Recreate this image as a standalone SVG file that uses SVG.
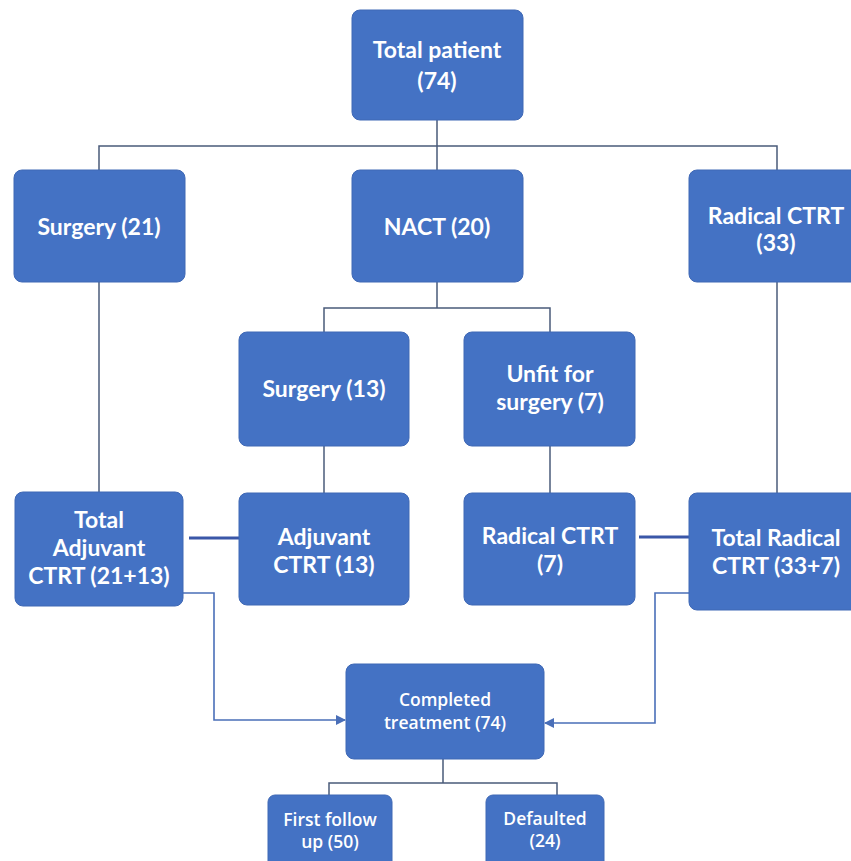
<svg xmlns="http://www.w3.org/2000/svg" width="851" height="861" viewBox="0 0 851 861">
<defs>
<style>
.box{fill:#4472C4;stroke:#3f68b5;stroke-width:1}
.t{font-family:Lato,"Open Sans","Liberation Sans",sans-serif;font-weight:700;font-size:23px;fill:#ffffff;text-anchor:middle}
.s{font-family:"Open Sans",Lato,"Liberation Sans",sans-serif;font-weight:600;font-size:17.5px;fill:#ffffff;text-anchor:middle}
.ln{fill:none;stroke:#4a5b7a;stroke-width:1.5}
.thick{fill:none;stroke:#3a57a8;stroke-width:3}
.ar{fill:none;stroke:#4a6fb8;stroke-width:1.6}
</style>
<marker id="ah" viewBox="0 0 10 10" refX="9" refY="5" markerWidth="10" markerHeight="10" markerUnits="userSpaceOnUse" orient="auto">
<path d="M0,0 L10,5 L0,10 z" fill="#4a6fb8"/>
</marker>
</defs>
<rect width="851" height="861" fill="#ffffff"/>
<g id="connectors">
<path class="ln" d="M437,120 V170 M99,170 V146 H777 V170"/>
<path class="ln" d="M437,282 V308 M324,332 V308 H550 V332"/>
<path class="ln" d="M99,282 V492"/>
<path class="ln" d="M777,282 V493"/>
<path class="ln" d="M324,446 V493"/>
<path class="ln" d="M550,446 V493"/>
<path class="thick" d="M189,538 H239"/>
<path class="thick" d="M639,537 H689"/>
<path class="ar" d="M183,593 H214 V720 H345" marker-end="url(#ah)"/>
<path class="ar" d="M689,593 H655 V723 H545" marker-end="url(#ah)"/>
<path class="ln" d="M443,759 V783 M329,795 V783 H557 V795"/>
</g>
<g id="total-patient">
<rect class="box" x="352" y="10" width="171" height="110" rx="8"/>
<text class="t" x="437" y="58">Total patient</text>
<text class="t" x="437" y="89">(74)</text>
</g>
<g id="surgery-21">
<rect class="box" x="14" y="170" width="171" height="112" rx="8"/>
<text class="t" x="99" y="235">Surgery (21)</text>
</g>
<g id="nact-20">
<rect class="box" x="352" y="170" width="171" height="112" rx="8"/>
<text class="t" x="437" y="235">NACT (20)</text>
</g>
<g id="radical-ctrt-33">
<rect class="box" x="689" y="170" width="175" height="112" rx="8"/>
<text class="t" x="776" y="224">Radical CTRT</text>
<text class="t" x="776" y="251">(33)</text>
</g>
<g id="surgery-13">
<rect class="box" x="239" y="332" width="170" height="114" rx="8"/>
<text class="t" x="324" y="397">Surgery (13)</text>
</g>
<g id="unfit-for-surgery">
<rect class="box" x="464" y="332" width="171" height="114" rx="8"/>
<text class="t" x="550" y="382">Unfit for</text>
<text class="t" x="550" y="410">surgery (7)</text>
</g>
<g id="total-adjuvant">
<rect class="box" x="15" y="492" width="168" height="114" rx="8"/>
<text class="t" x="99" y="528">Total</text>
<text class="t" x="99" y="556">Adjuvant</text>
<text class="t" x="99" y="584">CTRT (21+13)</text>
</g>
<g id="adjuvant-ctrt-13">
<rect class="box" x="239" y="493" width="170" height="112" rx="8"/>
<text class="t" x="324" y="545">Adjuvant</text>
<text class="t" x="324" y="573">CTRT (13)</text>
</g>
<g id="radical-ctrt-7">
<rect class="box" x="464" y="493" width="171" height="112" rx="8"/>
<text class="t" x="550" y="544">Radical CTRT</text>
<text class="t" x="550" y="572">(7)</text>
</g>
<g id="total-radical">
<rect class="box" x="689" y="493" width="175" height="117" rx="8"/>
<text class="t" x="776" y="546">Total Radical</text>
<text class="t" x="776" y="574">CTRT (33+7)</text>
</g>
<g id="completed-treatment">
<rect class="box" x="346" y="664" width="198" height="95" rx="8"/>
<text class="s" x="445" y="706">Completed</text>
<text class="s" x="445" y="729">treatment (74)</text>
</g>
<g id="first-follow-up">
<rect class="box" x="268" y="795" width="124" height="75" rx="7"/>
<text class="s" x="330" y="826">First follow</text>
<text class="s" x="330" y="848">up (50)</text>
</g>
<g id="defaulted">
<rect class="box" x="486" y="795" width="118" height="75" rx="7"/>
<text class="s" x="545" y="825">Defaulted</text>
<text class="s" x="545" y="847">(24)</text>
</g>
</svg>
